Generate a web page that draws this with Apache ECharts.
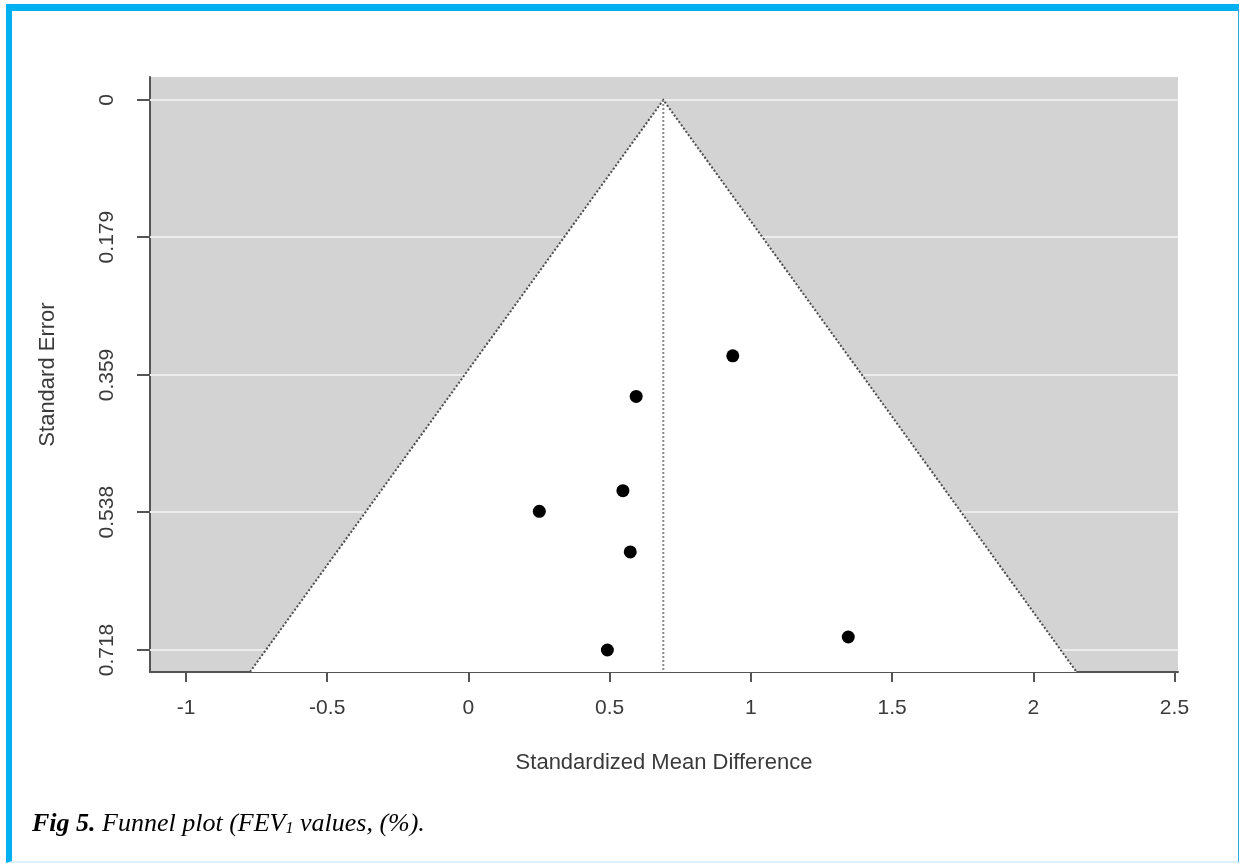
<!DOCTYPE html>
<html>
<head>
<meta charset="utf-8">
<title>Funnel plot</title>
<script src="https://cdn.jsdelivr.net/npm/echarts@6/dist/echarts.min.js"></script>
<style>
  html, body { margin: 0; padding: 0; background: #ffffff; }
  #frame {
    position: absolute; left: 6px; top: 4px; width: 1226px; height: 850px;
    border-left: 6px solid #00b0f0; border-top: 7px solid #00b0f0;
    border-right: 1px solid #29aae1; border-bottom: 2px solid #dcf1fb;
  }
  #chart { position: absolute; left: 0; top: 0; width: 1240px; height: 865px; }
</style>
</head>
<body>
<div id="frame"></div>
<div id="chart"></div>
<script>
// Study-level estimates: standardized mean difference and its standard error
const effectSizes    = [0.936, 0.594, 0.547, 0.251, 0.573, 0.492, 1.345];
const standardErrors = [0.334, 0.387, 0.510, 0.537, 0.590, 0.718, 0.701];
const pooledEstimate = 0.69;

// Axis ticks
const smdTicks = [-1, -0.5, 0, 0.5, 1, 1.5, 2, 2.5];
const smdTickLabels = ['-1', '-0.5', '0', '0.5', '1', '1.5', '2', '2.5'];
const seTicks = [0, 0.179, 0.359, 0.538, 0.718];
const seTickLabels = ['0', '0.179', '0.359', '0.538', '0.718'];

// Axis extents (range padded a little beyond the data, like base R plots)
const xMin = -1.1275, xMax = 2.5125;
const yMin = -0.030, yMax = 0.7467;
const z = 1.96;

const axisGrey = '#555555';
const textGrey = '#3a3a3a';

const chart = echarts.init(document.getElementById('chart'), null, { renderer: 'canvas' });

const points = effectSizes.map((x, i) => [x, standardErrors[i]]);

const serif = 'Liberation Serif, Times New Roman, serif';

chart.setOption({
  animation: false,
  textStyle: { fontFamily: 'Liberation Sans, Arial, sans-serif' },
  grid: {
    left: 150, top: 77, width: 1028, height: 595,
    show: true, backgroundColor: '#d3d3d3', borderWidth: 0
  },
  xAxis: {
    type: 'value', min: xMin, max: xMax,
    name: 'Standardized Mean Difference',
    nameLocation: 'middle', nameGap: 80,
    nameTextStyle: { fontSize: 22, color: textGrey },
    axisLine: { show: true, onZero: false, lineStyle: { color: axisGrey, width: 2 } },
    axisTick: { show: true, customValues: smdTicks, length: 10, lineStyle: { color: axisGrey, width: 2 } },
    axisLabel: {
      customValues: smdTicks, margin: 26, fontSize: 21, color: textGrey,
      formatter: v => smdTickLabels[smdTicks.indexOf(v)] ?? String(v)
    },
    splitLine: { show: false }
  },
  yAxis: {
    type: 'value', inverse: true, min: yMin, max: yMax,
    name: 'Standard Error',
    nameLocation: 'middle', nameGap: 91, nameRotate: 90,
    nameTextStyle: { fontSize: 22, color: textGrey },
    axisLine: { show: true, onZero: false, lineStyle: { color: axisGrey, width: 2 } },
    axisTick: { show: true, customValues: seTicks, length: 13, lineStyle: { color: axisGrey, width: 2 } },
    axisLabel: {
      customValues: seTicks, rotate: 90, margin: 32, fontSize: 21, color: textGrey,
      formatter: v => seTickLabels[seTicks.indexOf(v)] ?? String(v)
    },
    splitLine: { show: false }
  },
  graphic: [{
    type: 'text', left: 32, top: 811,
    style: {
      text: '{b|Fig 5.}{i| Funnel plot (FEV}{s|1}{i| values, (%).}',
      rich: {
        b: { fontFamily: serif, fontWeight: 'bold', fontStyle: 'italic', fontSize: 26, fill: '#000', lineHeight: 32 },
        i: { fontFamily: serif, fontStyle: 'italic', fontSize: 26, fill: '#000', lineHeight: 32 },
        s: { fontFamily: serif, fontStyle: 'italic', fontSize: 16, fill: '#000', lineHeight: 16, padding: [10, 0, 0, 0] }
      }
    }
  }],
  series: [
    {
      // light reference lines at each standard-error tick
      type: 'custom', z: 1, silent: true,
      data: seTicks,
      renderItem: (params, api) => {
        const v = api.value(0);
        const p1 = api.coord([xMin, v]);
        const p2 = api.coord([xMax, v]);
        return { type: 'line', shape: { x1: p1[0], y1: p1[1], x2: p2[0], y2: p2[1] },
                 style: { stroke: '#ececec', lineWidth: 2 } };
      },
      encode: { x: -1, y: 0 }
    },
    {
      // pseudo 95% confidence region around the pooled estimate
      type: 'custom', z: 2, silent: true,
      data: [[pooledEstimate, yMax]],
      renderItem: (params, api) => {
        const est = api.value(0), se = api.value(1);
        const apex = api.coord([est, 0]);
        const left = api.coord([est - z * se, se]);
        const right = api.coord([est + z * se, se]);
        const bottom = api.coord([est, se]);
        return {
          type: 'group',
          children: [
            { type: 'polygon', shape: { points: [apex, left, right] }, style: { fill: '#ffffff' } },
            { type: 'polyline', shape: { points: [left, apex, right] },
              style: { stroke: '#4d4d4d', lineWidth: 2, lineDash: [2, 2], fill: null } },
            { type: 'line', shape: { x1: apex[0], y1: apex[1], x2: bottom[0], y2: bottom[1] },
              style: { stroke: '#8a8a8a', lineWidth: 2, lineDash: [2, 2] } }
          ]
        };
      }
    },
    {
      type: 'scatter', z: 3,
      data: points,
      symbol: 'circle', symbolSize: 13,
      itemStyle: { color: '#000000', opacity: 1 }
    }
  ]
});
</script>
</body>
</html>
